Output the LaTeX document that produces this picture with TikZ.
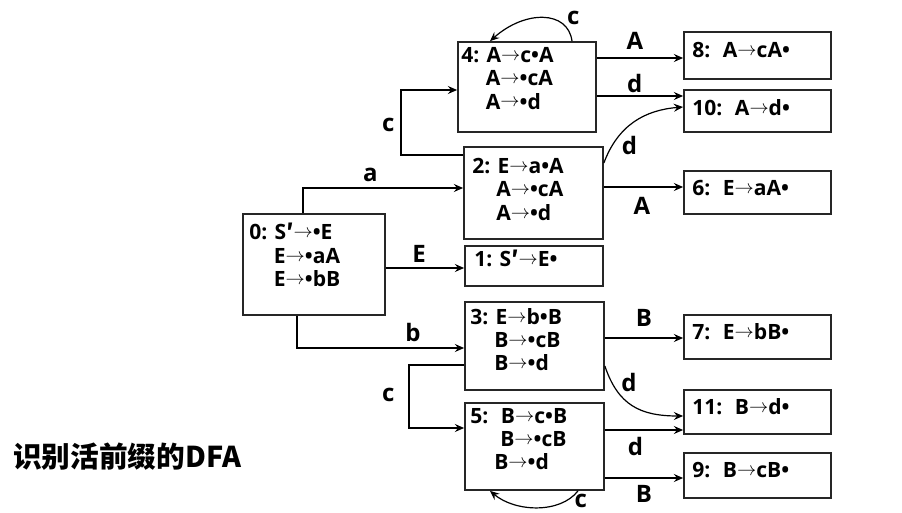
\documentclass[tikz,border=0pt]{standalone}
\usepackage{fontspec}
\setmainfont{Open Sans}
\newfontfamily\cjkfont{Noto Sans CJK SC}
\usetikzlibrary{arrows.meta,fit}

\newcommand{\yields}{\raisebox{0.1em}{$\rightarrow$}}
\newcommand{\primemark}{{\cjkfont ′}}

\tikzset{
  state/.style={draw=black!85, line width=1.3pt, inner sep=0pt},
  items/.style={anchor=north west, align=left, inner sep=0pt,
    font=\bfseries\fontsize{15.8}{17.5}\selectfont},
  trans/.style={line width=0.9pt, -{Stealth[length=7pt,width=6pt,inset=2.5pt]}},
  sym/.style={inner sep=0pt, font=\bfseries\fontsize{18}{20}\selectfont},
  title/.style={anchor=west, inner sep=0pt, font=\cjkfont\bfseries\fontsize{21.5}{24}\selectfont}
}

\begin{document}
\begin{tikzpicture}[x=0.75pt, y=-0.75pt]
  \useasboundingbox (0,0) rectangle (902,513);

  % item sets
  \node[state, fit={(243,214) (385,315)}] (s0) {};
  \node[state, fit={(464,147) (603,239)}] (s2) {};
  \node[state, fit={(465,246) (603,286)}] (s1) {};
  \node[state, fit={(458,42) (596,132)}] (s4) {};
  \node[state, fit={(465,302) (604,390)}] (s3) {};
  \node[state, fit={(465,403) (604,490)}] (s5) {};
  \node[state, fit={(684,32) (831,79)}] (s8) {};
  \node[state, fit={(684,90) (831,132)}] (s10) {};
  \node[state, fit={(684,171) (831,214)}] (s6) {};
  \node[state, fit={(684,315) (831,359)}] (s7) {};
  \node[state, fit={(684,390) (831,434)}] (s11) {};
  \node[state, fit={(684,453) (831,498)}] (s9) {};

  \node[items] (t0) at (249,223) {0: S\primemark\yields•E\\\hspace*{18.5pt}E\yields•aA\\\hspace*{18.5pt}E\yields•bB};
  \node[items] (t4) at (461,47) {4: A\yields c•A\\\hspace*{18.5pt}A\yields•cA\\\hspace*{18.5pt}A\yields•d};
  \node[items] (t2) at (472,158) {2: E\yields a•A\\\hspace*{18pt}A\yields•cA\\\hspace*{18pt}A\yields•d};
  \node[items] (t1) at (474,250) {1: S\primemark\yields E•};
  \node[items] (t3) at (470,308) {3: E\yields b•B\\\hspace*{18pt}B\yields•cB\\\hspace*{18pt}B\yields•d};
  \node[items] (t5) at (470,408) {5:\hspace{0.6em}B\yields c•B\\\hspace*{22.5pt}B\yields•cB\\\hspace*{18pt}B\yields•d};
  \node[items] (t8) at (692,42) {8:\hspace{0.6em}A\yields cA•};
  \node[items] (t10) at (692,99) {10:\hspace{0.6em}A\yields d•};
  \node[items] (t6) at (692,180) {6:\hspace{0.6em}E\yields aA•};
  \node[items] (t7) at (692,323) {7:\hspace{0.6em}E\yields bB•};
  \node[items] (t11) at (692,398) {11:\hspace{0.6em}B\yields d•};
  \node[items] (t9) at (692,462) {9:\hspace{0.6em}B\yields cB•};

  % transitions
  \draw[trans] (s0.north -| 303,0) |- (s2.west |- 0,188) node[sym, pos=0.71, above=4.5pt] {a};
  \draw[trans] (s0.east |- 0,268) -- (s1.west |- 0,268) node[sym, pos=0.425, above=3.75pt] {E};
  \draw[trans] (s0.south -| 297,0) |- (s3.west |- 0,348) node[sym, pos=0.847, above=4.5pt] {b};
  \draw[trans] (s2.west |- 0,155) -- (401,155) |- (s4.west |- 0,90) node[sym, pos=0.23, left=4.5pt] {c};
  \draw[trans] (s3.west |- 0,365) -- (409,365) |- (s5.west |- 0,428) node[sym, pos=0.24, left=10.5pt] {c};
  \draw[trans] (s4.north -| 572,0) .. controls (568,10) and (525,10) .. (s4.north -| 490,0) node[sym, pos=0.2, above right=1pt] {c};
  \draw[trans] (s5.south -| 578,0) .. controls (560,514) and (515,512) .. (s5.south -| 490,0) node[sym, pos=0, anchor=north west, xshift=-3pt, yshift=-2pt] {c};
  \draw[trans] (s4.east |- 0,58) -- (s8.west |- 0,58) node[sym, pos=0.44, above=6pt] {A};
  \draw[trans] (s4.east |- 0,96) -- (s10.west |- 0,96) node[sym, pos=0.44, above=2.25pt] {d};
  \draw[trans] (s2.east |- 0,163) .. controls (618,125) and (645,110) .. (s10.west |- 0,107) node[sym, pos=0.3, below right=1pt] {d};
  \draw[trans] (s2.east |- 0,187) -- (s6.west |- 0,187) node[sym, pos=0.48, below=7.5pt] {A};
  \draw[trans] (s3.east |- 0,338) -- (s7.west |- 0,338) node[sym, midway, above=8pt] {B};
  \draw[trans] (s3.east |- 0,366) .. controls (618,405) and (640,416) .. (s11.west |- 0,416) node[sym, pos=0.3, above right=1pt] {d};
  \draw[trans] (s5.east |- 0,430) -- (s11.west |- 0,430) node[sym, pos=0.39, below=5pt] {d};
  \draw[trans] (s5.east |- 0,478) -- (s9.west |- 0,478) node[sym, midway, below=5pt] {B};

  \node[title] (ttl) at (13,457) {识别活前缀的DFA};
\end{tikzpicture}
\end{document}
